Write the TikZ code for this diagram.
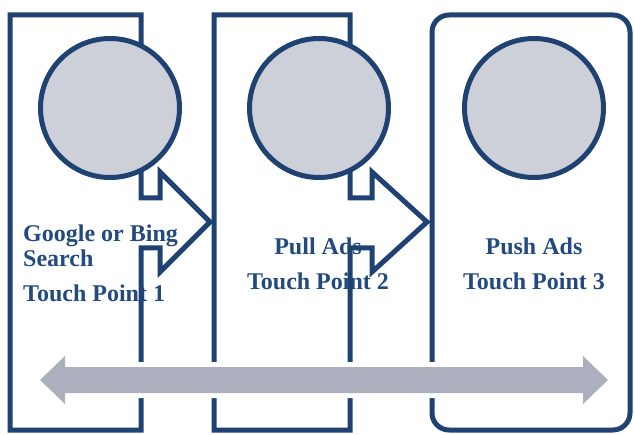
\documentclass[tikz,border=0pt]{standalone}
\usepackage{fontspec}
\setmainfont{Liberation Serif}
\definecolor{lineblue}{HTML}{1F4273}
\definecolor{textblue}{HTML}{224A7E}
\definecolor{circfill}{HTML}{CDD0D9}
\definecolor{arrowfill}{HTML}{ACB0BE}
\begin{document}
\begin{tikzpicture}[x=1pt,y=-1pt,
  frame/.style={draw=lineblue,line width=5pt,line join=miter},
  disc/.style={circle,draw=lineblue,line width=5pt,fill=circfill,minimum size=139pt,inner sep=0pt},
  lbl/.style={text=textblue,font=\fontsize{24}{28}\selectfont\bfseries,inner sep=0pt}]
\useasboundingbox (0,0) rectangle (634,435);
% labels
\node[lbl,anchor=base west] (g1) at (23,242) {Google or Bing};
\node[lbl,anchor=base west] (g2) at (23,267) {Search};
\node[lbl,anchor=base west] (t1) at (23,302) {Touch Point 1};
\node[lbl,anchor=base] (p2) at (318,255) {Pull Ads};
\node[lbl,anchor=base] (t2) at (318,290) {Touch Point 2};
\node[lbl,anchor=base] (p3) at (534,255) {Push Ads};
\node[lbl,anchor=base] (t3) at (534,290) {Touch Point 3};
% frames
\draw[frame] (10,15) -- (141,15) -- (141,198) -- (160,198) -- (160,172) -- (210,222)
  -- (160,272) -- (160,248) -- (141,248) -- (141,430) -- (10,430) -- cycle;
\draw[frame] (214,15) -- (350,15) -- (350,198) -- (372,198) -- (372,172) -- (427,222)
  -- (372,272) -- (372,248) -- (350,248) -- (350,430) -- (214,430) -- cycle;
\draw[frame,rounded corners=17pt] (432,15) rectangle (630,430);
% circles
\node[disc] (c1) at (110,108) {};
\node[disc] (c2) at (319,108) {};
\node[disc] (c3) at (534,108) {};
% double arrow
\draw[white,line width=10pt,line join=miter] (40,380) -- (65,356) -- (65,367) -- (583,367) -- (583,356)
  -- (608,380) -- (583,404) -- (583,393) -- (65,393) -- (65,404) -- cycle;
\fill[arrowfill] (40,380) -- (65,356) -- (65,367) -- (583,367) -- (583,356)
  -- (608,380) -- (583,404) -- (583,393) -- (65,393) -- (65,404) -- cycle;
\end{tikzpicture}
\end{document}
